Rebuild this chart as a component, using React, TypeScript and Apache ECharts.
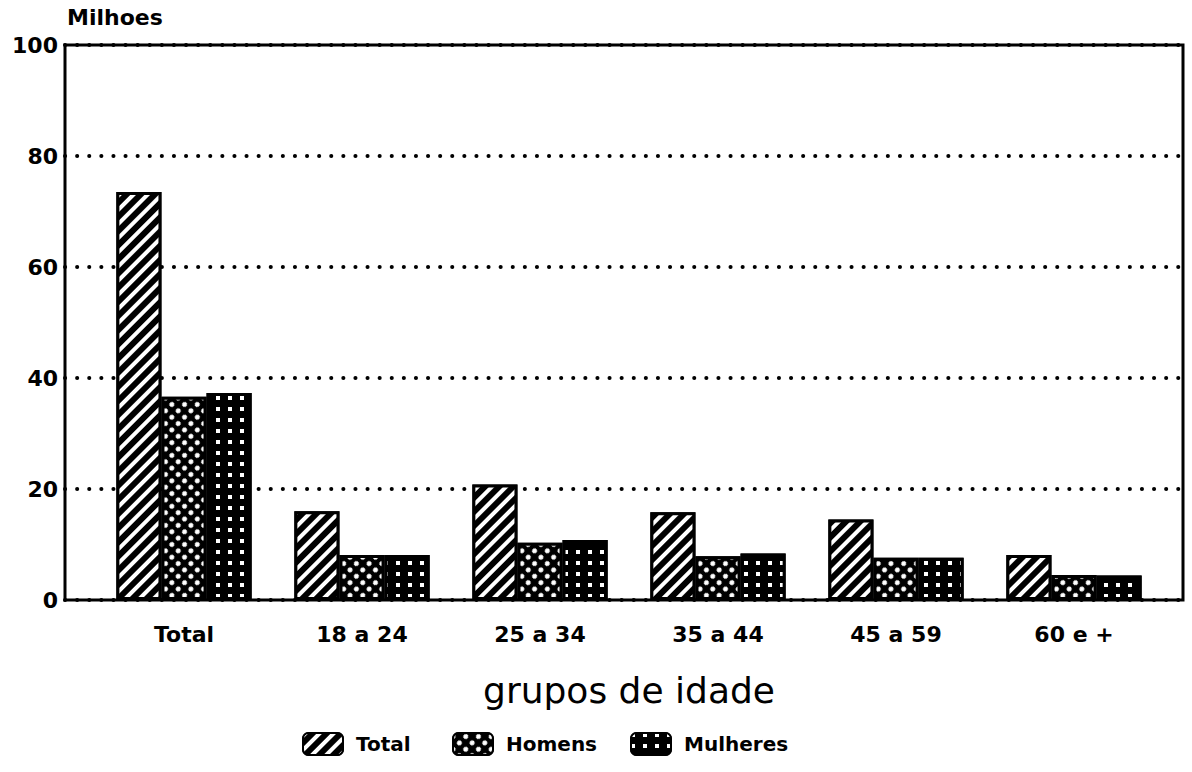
import React, { useEffect, useRef } from "react";
import * as echarts from "echarts";

const categories = ["Total", "18 a 24", "25 a 34", "35 a 44", "45 a 59", "60 e +"];
const totalValues = [73.5, 16, 20.8, 15.8, 14.5, 8.1];
const homensValues = [36.6, 8.1, 10.3, 7.9, 7.6, 4.5];
const mulheresValues = [37.3, 8.1, 10.8, 8.4, 7.6, 4.4];
const yTicks = { min: 0, max: 100, interval: 20 };

const FONT = "DejaVu Sans";

export default function App() {
  const ref = useRef<HTMLDivElement>(null);
  useEffect(() => {
    document.body.style.margin = "0";
    const chart = echarts.init(ref.current!, null, { renderer: "svg" });
    const decalTotal = {
      symbol: "rect",
      color: "#fff",
      dashArrayX: [1, 0],
      dashArrayY: [4, 6],
      rotation: -Math.PI / 4,
    };
    const decalHomens = {
      symbol: "circle",
      color: "#fff",
      symbolSize: 1,
      dashArrayX: [5, 4],
      dashArrayY: [5, 4],
      rotation: Math.PI / 4,
    };
    const decalMulheres = {
      symbol: "rect",
      color: "#fff",
      symbolSize: 1,
      dashArrayX: [4, 8],
      dashArrayY: [4, 7],
      rotation: 0,
    };
    const legendText = { color: "#000", fontFamily: FONT, fontWeight: "bold", fontSize: 20, padding: [0, 0, 0, 8] };
    const mkLegend = (name: string, left: number) => ({
      data: [name],
      left,
      top: 727,
      itemWidth: 40,
      itemHeight: 22,
      itemStyle: { borderColor: "#000", borderWidth: 2 },
      textStyle: legendText,
      selectedMode: false,
    });
    chart.setOption({
      animation: false,
      backgroundColor: "#fff",
      textStyle: { fontFamily: FONT },
      grid: [
        { left: 65, right: 9, top: 45, bottom: 172, show: true, borderColor: "#000", borderWidth: 3, backgroundColor: "transparent" },
        { left: 95, right: 29, top: 45, bottom: 172 },
      ],
      xAxis: [
        { type: "value", gridIndex: 0, min: 0, max: 1, show: false },
        {
          type: "category",
          gridIndex: 1,
          data: categories,
          axisLine: { show: false },
          axisTick: { show: false },
          axisLabel: { color: "#000", fontFamily: FONT, fontWeight: "bold", fontSize: 22, margin: 23 },
          name: "grupos de idade",
          nameLocation: "middle",
          nameGap: 72,
          nameTextStyle: { color: "#000", fontFamily: FONT, fontSize: 36 },
        },
      ],
      yAxis: [
        {
          type: "value",
          gridIndex: 0,
          min: yTicks.min,
          max: yTicks.max,
          interval: yTicks.interval,
          axisLine: { show: false },
          axisTick: { show: false },
          axisLabel: { color: "#000", fontFamily: FONT, fontWeight: "bold", fontSize: 22, margin: 7 },
          splitLine: { lineStyle: { color: "#000", width: 4, type: [0.1, 12], cap: "round" } },
        },
        { type: "value", gridIndex: 1, min: yTicks.min, max: yTicks.max, show: false },
      ],
      legend: [mkLegend("Total", 297), mkLegend("Homens", 447), mkLegend("Mulheres", 625)],
      graphic: [
        {
          type: "text",
          left: 67,
          top: 6,
          style: { text: "Milhoes", fill: "#000", font: `bold 22px "${FONT}"` },
        },
      ],
      series: [
        { name: "Total", data: totalValues, decal: decalTotal },
        { name: "Homens", data: homensValues, decal: decalHomens },
        { name: "Mulheres", data: mulheresValues, decal: decalMulheres },
      ].map((s) => ({
        type: "bar",
        name: s.name,
        xAxisIndex: 1,
        yAxisIndex: 1,
        data: s.data,
        barGap: "0%",
        barCategoryGap: "24%",
        itemStyle: { color: "#000", borderColor: "#000", borderWidth: 3, decal: s.decal },
      })),
    });
    return () => chart.dispose();
  }, []);
  return <div ref={ref} style={{ position: "absolute", left: 0, top: 0, width: 1192, height: 772 }} />;
}
